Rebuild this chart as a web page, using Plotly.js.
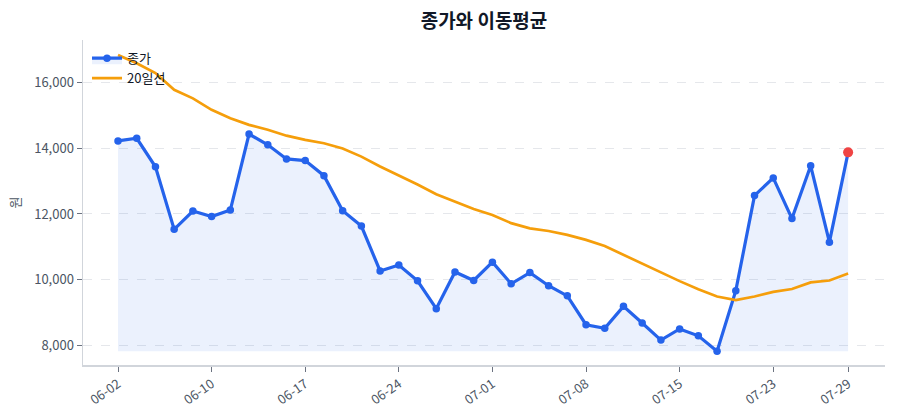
<!DOCTYPE html>
<html>
<head>
<meta charset="utf-8">
<script src="https://cdn.plot.ly/plotly-3.0.1.min.js"></script>
<style>
  html, body { margin: 0; padding: 0; background: #fff; }
  #chart { width: 900px; height: 420px; }
</style>
</head>
<body>
<div id="chart"></div>
<script>
const dates = [
    '06-02', '06-03', '06-04', '06-05', '06-09', '06-10', '06-11', '06-12', '06-13', '06-16',
    '06-17', '06-18', '06-19', '06-20', '06-23', '06-24', '06-25', '06-26', '06-27', '06-30',
    '07-01', '07-02', '07-03', '07-04', '07-07', '07-08', '07-09', '07-10', '07-11', '07-14',
    '07-15', '07-16', '07-17', '07-18', '07-22', '07-23', '07-24', '07-25', '07-28', '07-29',
];
const closePrice = [
    14230, 14310, 13440, 11530, 12090, 11920, 12120, 14440, 14110, 13680,
    13630, 13170, 12100, 11630, 10260, 10440, 9960, 9110, 10230, 9970,
    10530, 9870, 10210, 9810, 9500, 8620, 8510, 9180, 8670, 8150,
    8490, 8280, 7810, 9660, 12560, 13100, 11860, 13470, 11140, 13880,
];
const ma20 = [
    16850, 16600, 16300, 15790, 15530, 15180, 14920, 14720, 14570, 14390,
    14260, 14160, 14000, 13750, 13450, 13180, 12900, 12600, 12370, 12150,
    11970, 11720, 11560, 11480, 11360, 11210, 11020, 10750, 10470, 10210,
    9950, 9700, 9480, 9370, 9480, 9620, 9710, 9910, 9970, 10180,
];
const tickDates = ['06-02', '06-10', '06-17', '06-24', '07-01', '07-08', '07-15', '07-23', '07-29'];

(function () {
    const fontFamily = '"Noto Sans CJK KR", "Noto Sans", sans-serif';
    const floor = Math.min(...closePrice);
    const last = dates.length - 1;

    const baseline = {
        x: dates,
        y: dates.map(() => floor),
        type: 'scatter',
        mode: 'lines',
        line: {width: 0},
        showlegend: false,
        hoverinfo: 'skip',
    };

    const close = {
        x: dates,
        y: closePrice,
        type: 'scatter',
        mode: 'lines+markers',
        name: '종가',
        fill: 'tonexty',
        fillcolor: 'rgba(37, 99, 235, 0.09)',
        line: {color: '#2563eb', width: 3.2},
        marker: {color: '#2563eb', size: 7.5},
    };

    const ma = {
        x: dates,
        y: ma20,
        type: 'scatter',
        mode: 'lines',
        name: '20일선',
        line: {color: '#f59e0b', width: 2.7},
    };

    const lastPoint = {
        x: [dates[last]],
        y: [closePrice[last]],
        type: 'scatter',
        mode: 'markers',
        marker: {color: '#ef4444', size: 10},
        showlegend: false,
    };

    const layout = {
        width: 900,
        height: 420,
        margin: {l: 83, r: 15, t: 40, b: 55},
        paper_bgcolor: '#ffffff',
        plot_bgcolor: '#ffffff',
        font: {family: fontFamily, size: 13, color: '#4b5563'},
        title: {
            text: '<b>종가와 이동평균</b>',
            xref: 'paper',
            x: 0.5,
            xanchor: 'center',
            yref: 'container',
            y: 0.948,
            yanchor: 'middle',
            font: {family: fontFamily, size: 19, color: '#111827'},
        },
        xaxis: {
            type: 'category',
            range: [-1.87, 40.97],
            tickmode: 'array',
            tickvals: tickDates,
            ticktext: tickDates,
            tickangle: -35,
            ticks: 'outside',
            ticklen: 5,
            tickcolor: '#6b7280',
            showgrid: false,
            showline: true,
            linecolor: '#d1d5db',
            linewidth: 1.5,
            zeroline: false,
            tickfont: {size: 13, color: '#4b5563'},
        },
        yaxis: {
            range: [7390, 17310],
            tickvals: [8000, 10000, 12000, 14000, 16000],
            tickformat: ',',
            ticks: 'outside',
            ticklen: 5,
            tickcolor: '#6b7280',
            showline: true,
            linecolor: '#d1d5db',
            linewidth: 1.5,
            gridcolor: '#e5e7eb',
            griddash: 'dash',
            zeroline: false,
            title: {text: '원', standoff: 10, font: {size: 13, color: '#4b5563'}},
            tickfont: {size: 13, color: '#4b5563'},
        },
        legend: {
            x: 0.005,
            y: 0.99,
            xanchor: 'left',
            yanchor: 'top',
            traceorder: 'normal',
            bgcolor: 'rgba(0,0,0,0)',
            font: {size: 13, color: '#111827'},
            tracegroupgap: 0,
        },
        showlegend: true,
        hovermode: 'x unified',
    };

    Plotly.newPlot('chart', [baseline, close, ma, lastPoint], layout, {
        displayModeBar: false,
        staticPlot: true,
    });
})();
</script>
</body>
</html>
